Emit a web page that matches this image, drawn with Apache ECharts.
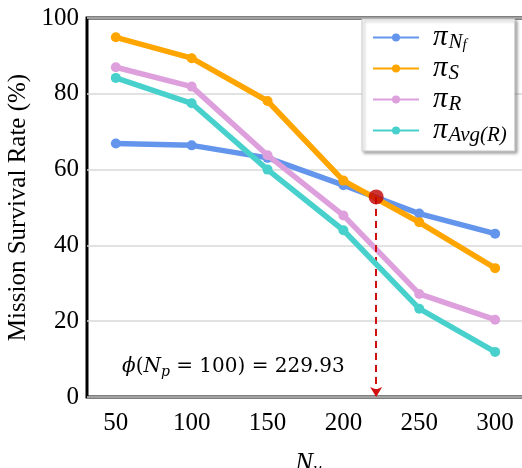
<!DOCTYPE html>
<html>
<head>
<meta charset="utf-8">
<script src="https://cdn.jsdelivr.net/npm/echarts@6/dist/echarts.min.js"></script>
<style>html,body{margin:0;padding:0;background:#fff;}#c{width:522px;height:468px;}</style>
</head>
<body>
<div id="c"></div>
<script>
var xValues = [50, 100, 150, 200, 250, 300];
var xTicks = [50, 100, 150, 200, 250, 300];
var yTicks = [0, 20, 40, 60, 80, 100];
var piNf = [66.9, 66.4, 63.1, 55.9, 48.4, 43.1];
var piS = [94.9, 89.4, 78.1, 57.1, 46.1, 34.0];
var piR = [87.0, 81.9, 63.8, 47.9, 27.2, 20.4];
var piAvgR = [84.2, 77.5, 60.0, 44.0, 23.3, 11.9];
var seriesNames = ['piNf', 'piS', 'piR', 'piAvgR'];
var seriesColors = ['#6495ED', '#FFA500', '#DDA0DD', '#48D1CC'];
var crossPoint = [221.6, 52.8];
var annotationText = '229.93';

function pairs(vals) { return xValues.map(function (x, i) { return [x, vals[i]]; }); }
var allVals = [piNf, piS, piR, piAvgR];

var legendRich = {
  pi: { fontFamily: 'Liberation Serif', fontStyle: 'italic', fontSize: 29, color: '#000', lineHeight: 28 },
  sub: { fontFamily: 'Liberation Serif', fontStyle: 'italic', fontSize: 21, color: '#000', padding: [10, 0, 0, 1], lineHeight: 20 },
  subsub: { fontFamily: 'Liberation Serif', fontStyle: 'italic', fontSize: 15, color: '#000', padding: [16, 0, 0, 0], lineHeight: 14 }
};
var legendLabels = {
  piNf: '{pi|π}{sub|N}{subsub|f}',
  piS: '{pi|π}{sub|S}',
  piR: '{pi|π}{sub|R}',
  piAvgR: '{pi|π}{sub|Avg(R)}'
};

var series = seriesNames.map(function (n, i) {
  return {
    name: n, type: 'line', data: pairs(allVals[i]),
    symbol: 'circle', symbolSize: 10,
    lineStyle: { width: 5.5, color: seriesColors[i] },
    itemStyle: { color: seriesColors[i] },
    z: 2 + i
  };
});
series.push({
  name: 'cross', type: 'scatter', data: [crossPoint],
  symbol: 'circle', symbolSize: 15,
  itemStyle: { color: '#C00000' }, z: 20,
  markLine: {
    silent: true, symbol: ['none', 'arrow'], symbolSize: [9, 10],
    lineStyle: { type: [7, 5], color: '#D01010', width: 2 },
    label: { show: false },
    data: [[{ coord: crossPoint }, { coord: [crossPoint[0], 0] }]]
  }
});

var chart = echarts.init(document.getElementById('c'), null, { renderer: 'canvas' });
chart.setOption({
  animation: false,
  backgroundColor: '#fff',
  grid: { left: 87, right: -8, top: 18, bottom: 71, show: true, borderColor: '#000', borderWidth: 3, backgroundColor: 'transparent', containLabel: false, outerBoundsMode: 'none' },
  xAxis: {
    type: 'value', min: 31, max: 323,
    name: '{n|N}{s|u}', nameLocation: 'middle', nameGap: 52,
    nameTextStyle: {
      rich: {
        n: { fontFamily: 'Liberation Serif', fontStyle: 'italic', fontSize: 27, color: '#000' },
        s: { fontFamily: 'Liberation Serif', fontStyle: 'italic', fontSize: 18, color: '#000', padding: [12, 0, 0, 0] }
      }
    },
    axisLine: { show: false }, axisTick: { show: false }, splitLine: { show: false },
    axisLabel: { customValues: xTicks, fontFamily: 'Liberation Serif', fontSize: 25, color: '#000', margin: 14 }
  },
  yAxis: {
    type: 'value', min: 0, max: 100, interval: 20,
    name: 'Mission Survival Rate (%)', nameLocation: 'middle', nameGap: 56,
    nameTextStyle: { fontFamily: 'Liberation Serif', fontSize: 25, color: '#000' },
    axisLine: { show: false }, axisTick: { show: false },
    splitLine: { lineStyle: { color: '#d9d9d9', width: 1.5 } },
    axisLabel: { customValues: yTicks, fontFamily: 'Liberation Serif', fontSize: 25, color: '#000', margin: 8 }
  },
  legend: {
    data: seriesNames, orient: 'vertical', left: 362, top: 19,
    padding: [3, 8, 5, 10], itemGap: 0, itemWidth: 46, itemHeight: 10,
    backgroundColor: '#fff', borderColor: '#ccc', borderWidth: 1,
    shadowColor: 'rgba(0,0,0,0.35)', shadowBlur: 3, shadowOffsetX: 2, shadowOffsetY: 2,
    formatter: function (n) { return legendLabels[n]; },
    textStyle: { rich: legendRich, padding: [0, 0, 0, 9] }
  },
  graphic: [{
    type: 'text', left: 122, top: 357,
    style: {
      text: '{i|ϕ}{n|(}{i|N}{s|p}{n| = 100) = ' + annotationText + '}',
      rich: {
        i: { fontFamily: 'DejaVu Serif', fontStyle: 'italic', fontSize: 20, fill: '#000' },
        n: { fontFamily: 'DejaVu Serif', fontSize: 20, fill: '#000' },
        s: { fontFamily: 'DejaVu Serif', fontStyle: 'italic', fontSize: 14, fill: '#000', padding: [10, 0, 0, 0] }
      }
    }
  }],
  series: series
});
</script>
</body>
</html>
